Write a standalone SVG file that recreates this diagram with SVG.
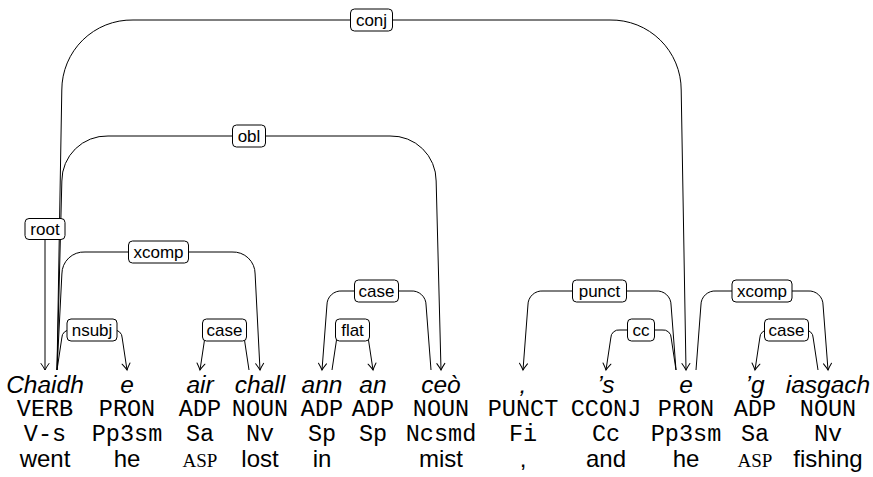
<svg xmlns="http://www.w3.org/2000/svg" width="873" height="477" viewBox="0 0 873 477">
<style>
.e{fill:none;stroke:#000;stroke-width:1;marker-end:url(#arr)}
.lb rect{fill:#fff;stroke:#000;stroke-width:1}
.lb text{font-family:"Liberation Sans",Arial,sans-serif;font-size:17px;text-anchor:middle;fill:#000}
.w{font-family:"Liberation Sans",Arial,sans-serif;font-size:24.5px;font-style:italic;text-anchor:middle}
.t{font-family:"Liberation Mono","Courier New",monospace;font-size:23.5px;text-anchor:middle}
.g{font-family:"Liberation Sans",Arial,sans-serif;font-size:24px;text-anchor:middle}
.sc{font-family:"Liberation Serif","Times New Roman",serif;font-size:19px;text-anchor:middle}
</style>
<defs>
<marker id="arr" markerUnits="userSpaceOnUse" markerWidth="12" markerHeight="12" viewBox="-8 -6 10 12" refX="0" refY="0" orient="auto">
<path d="M-6.5,-4 Q-2.5,-1.2 0,0 Q-2.5,1.2 -6.5,4" fill="none" stroke="#000" stroke-width="1" stroke-linecap="round"/>
</marker>
</defs>
<rect width="873" height="477" fill="#fff"/>
<g id="connectors">
<path class="e" d="M45,240 L45,370"/>
<path class="e" d="M57,370 L61.8,338 A8,8 0 0 1 71,330 L113,330 A8,8 0 0 1 122.2,338 L127,370"/>
<path class="e" d="M57,370 L61.88,274 A22,22 0 0 1 85,252 L232,252 A22,22 0 0 1 255.12,274 L260,370"/>
<path class="e" d="M57,370 L61.85,181 A45,45 0 0 1 108,136 L390,136 A45,45 0 0 1 436.15,181 L441,370"/>
<path class="e" d="M57,370 L61.8,90 A70,70 0 0 1 133,20 L610,20 A70,70 0 0 1 681.2,90 L686,370"/>
<path class="e" d="M249,370 L244.2,338 A8,8 0 0 0 235,330 L214,330 A8,8 0 0 0 204.8,338 L200,370"/>
<path class="e" d="M332,370 L336.8,338 A8,8 0 0 1 346,330 L359,330 A8,8 0 0 1 368.2,338 L373,370"/>
<path class="e" d="M431,370 L426.06,305 A14,14 0 0 0 411,291 L342,291 A14,14 0 0 0 326.94,305 L322,370"/>
<path class="e" d="M676,370 L671.06,305 A14,14 0 0 0 656,291 L543,291 A14,14 0 0 0 527.94,305 L523,370"/>
<path class="e" d="M676,370 L671.2,338 A8,8 0 0 0 662,330 L620,330 A8,8 0 0 0 610.8,338 L606,370"/>
<path class="e" d="M696,370 L700.94,305 A14,14 0 0 1 716,291 L808,291 A14,14 0 0 1 823.06,305 L828,370"/>
<path class="e" d="M818,370 L813.2,338 A8,8 0 0 0 804,330 L769,330 A8,8 0 0 0 759.8,338 L755,370"/>
</g>
<g id="labels">
<g class="lb" id="l-root"><rect x="25" y="218.5" width="40" height="21" rx="4"/><text x="45" y="234.5">root</text></g>
<g class="lb" id="l-nsubj"><rect x="67" y="319" width="50" height="22" rx="4"/><text x="92" y="335.5">nsubj</text></g>
<g class="lb" id="l-xcomp1"><rect x="128.5" y="241" width="60" height="22" rx="4"/><text x="158.5" y="257.5">xcomp</text></g>
<g class="lb" id="l-obl"><rect x="232.5" y="125" width="33" height="22" rx="4"/><text x="249" y="141.5">obl</text></g>
<g class="lb" id="l-conj"><rect x="350.5" y="9" width="42" height="22" rx="4"/><text x="371.5" y="25.5">conj</text></g>
<g class="lb" id="l-case1"><rect x="202.5" y="319" width="44" height="22" rx="4"/><text x="224.5" y="335.5">case</text></g>
<g class="lb" id="l-flat"><rect x="335.5" y="319" width="34" height="22" rx="4"/><text x="352.5" y="335.5">flat</text></g>
<g class="lb" id="l-case2"><rect x="354.5" y="280" width="44" height="22" rx="4"/><text x="376.5" y="296.5">case</text></g>
<g class="lb" id="l-punct"><rect x="572.5" y="280" width="54" height="22" rx="4"/><text x="599.5" y="296.5">punct</text></g>
<g class="lb" id="l-cc"><rect x="627.5" y="319" width="27" height="22" rx="4"/><text x="641" y="335.5">cc</text></g>
<g class="lb" id="l-xcomp2"><rect x="732" y="280" width="60" height="22" rx="4"/><text x="762" y="296.5">xcomp</text></g>
<g class="lb" id="l-case3"><rect x="764.5" y="319" width="44" height="22" rx="4"/><text x="786.5" y="335.5">case</text></g>
</g>
<g id="w1"><text class="w" x="45" y="393">Chaidh</text><text class="t" x="45" y="416">VERB</text><text class="t" x="45" y="441">V-s</text><text class="g" x="45" y="467">went</text></g>
<g id="w2"><text class="w" x="127" y="393">e</text><text class="t" x="127" y="416">PRON</text><text class="t" x="127" y="441">Pp3sm</text><text class="g" x="127" y="467">he</text></g>
<g id="w3"><text class="w" x="200" y="393">air</text><text class="t" x="200" y="416">ADP</text><text class="t" x="200" y="441">Sa</text><text class="sc" x="200" y="467">ASP</text></g>
<g id="w4"><text class="w" x="260" y="393">chall</text><text class="t" x="260" y="416">NOUN</text><text class="t" x="260" y="441">Nv</text><text class="g" x="260" y="467">lost</text></g>
<g id="w5"><text class="w" x="322" y="393">ann</text><text class="t" x="322" y="416">ADP</text><text class="t" x="322" y="441">Sp</text><text class="g" x="322" y="467">in</text></g>
<g id="w6"><text class="w" x="373" y="393">an</text><text class="t" x="373" y="416">ADP</text><text class="t" x="373" y="441">Sp</text></g>
<g id="w7"><text class="w" x="441" y="393">ceò</text><text class="t" x="441" y="416">NOUN</text><text class="t" x="441" y="441">Ncsmd</text><text class="g" x="441" y="467">mist</text></g>
<g id="w8"><text class="w" x="523" y="393">,</text><text class="t" x="523" y="416">PUNCT</text><text class="t" x="523" y="441">Fi</text><text class="g" x="523" y="467">,</text></g>
<g id="w9"><text class="w" x="606" y="393">’s</text><text class="t" x="606" y="416">CCONJ</text><text class="t" x="606" y="441">Cc</text><text class="g" x="606" y="467">and</text></g>
<g id="w10"><text class="w" x="686" y="393">e</text><text class="t" x="686" y="416">PRON</text><text class="t" x="686" y="441">Pp3sm</text><text class="g" x="686" y="467">he</text></g>
<g id="w11"><text class="w" x="755" y="393">’g</text><text class="t" x="755" y="416">ADP</text><text class="t" x="755" y="441">Sa</text><text class="sc" x="755" y="467">ASP</text></g>
<g id="w12"><text class="w" x="828" y="393">iasgach</text><text class="t" x="828" y="416">NOUN</text><text class="t" x="828" y="441">Nv</text><text class="g" x="828" y="467">fishing</text></g>
</svg>
